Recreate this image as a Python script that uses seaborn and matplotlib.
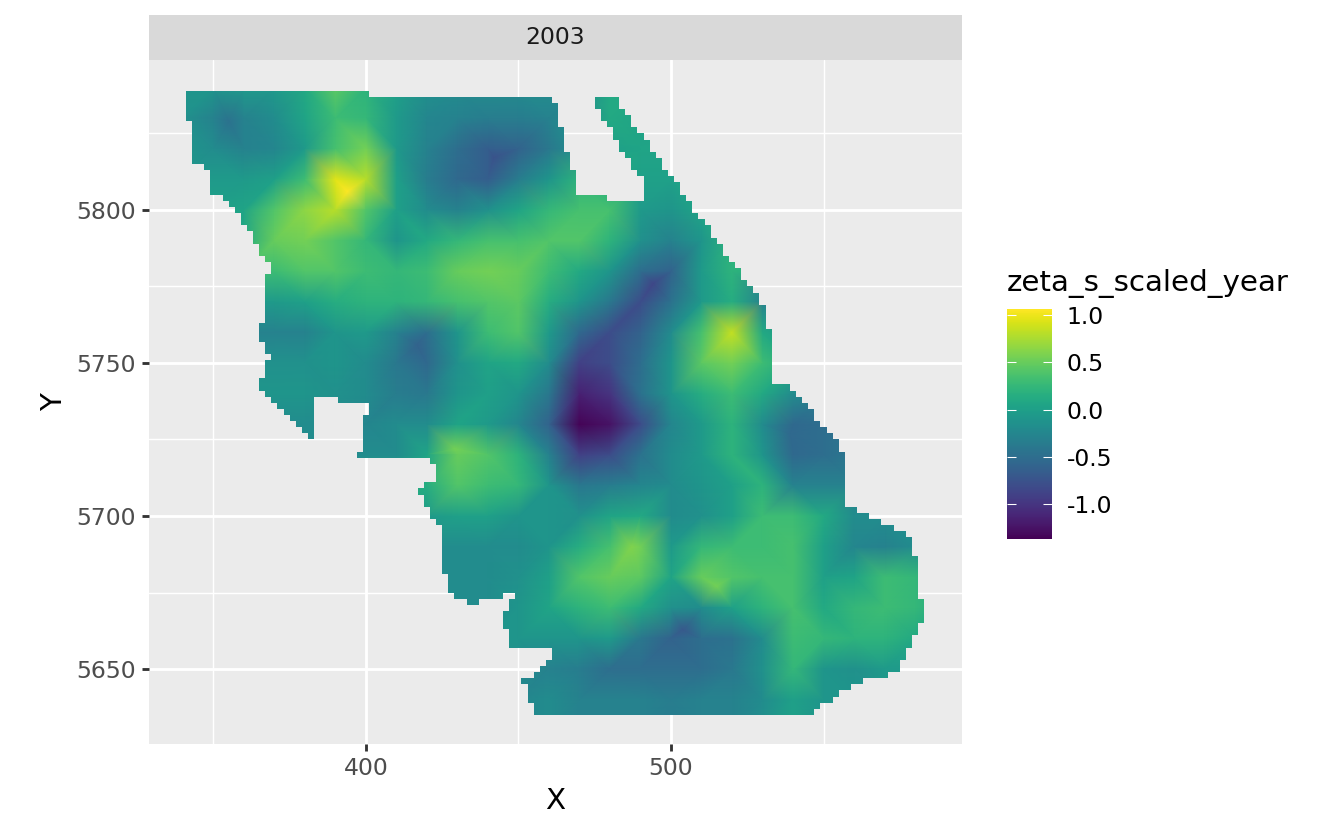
import numpy as np
import pandas as pd
import seaborn as sns
import matplotlib
matplotlib.use("Agg")
import matplotlib.pyplot as plt
from matplotlib.path import Path

YEAR = 2003
TITLE = "zeta_s_scaled_year"
X_NODES = [340, 350, 360, 370, 380, 390, 400, 410, 420, 430, 440, 450, 460,
           470, 480, 490, 500, 510, 520, 530, 540, 550, 560, 570, 580, 590]
Y_NODES = [5840, 5830, 5820, 5810, 5800, 5790, 5780, 5770, 5760, 5750, 5740,
           5730, 5720, 5710, 5700, 5690, 5680, 5670, 5660, 5650, 5640, 5630]

Z_5840 = [-.1, -.1, -.05, -.05, .1, .45, .2, 0, -.15, -.2, -.2, -.2, -.2, -.2, .1, .1, .05, 0, 0, 0, 0, 0, 0, 0, 0, 0]
Z_5830 = [-.15, -.3, -.3, -.2, .05, .3, .25, -.05, -.25, -.3, -.35, -.35, -.3, -.2, .1, .05, 0, 0, 0, 0, 0, 0, 0, 0, 0, 0]
Z_5820 = [-.1, -.2, -.3, -.25, -.05, .35, .55, -.05, -.3, -.5, -.65, -.6, -.4, -.15, 0, .05, .05, .05, 0, 0, 0, 0, 0, 0, 0, 0]
Z_5810 = [-.05, -.05, -.05, 0, .3, .95, .8, 0, -.35, -.55, -.65, -.35, -.1, .2, .1, 0, 0, .1, .1, 0, 0, 0, 0, 0, 0, 0]
Z_5800 = [0, 0, .05, .4, .65, .8, .4, 0, -.2, -.3, -.15, .05, .25, .35, .35, -.05, -.1, .05, .2, .1, 0, 0, 0, 0, 0, 0]
Z_5790 = [.1, .1, .1, .5, .55, .4, .25, -.1, .1, .25, .35, .35, .4, .4, .2, -.15, -.3, -.1, .2, .15, 0, 0, 0, 0, 0, 0]
Z_5780 = [.3, .3, .3, .3, .4, .4, .3, .25, .3, .5, .55, .5, .3, .1, -.1, -.5, -.6, -.05, .2, .15, 0, 0, 0, 0, 0, 0]
Z_5770 = [-.05, -.05, -.05, -.05, 0, .15, .2, .2, .25, .35, .4, .45, .15, -.1, -.4, -.8, -.45, -.05, .15, -.3, -.3, 0, 0, 0, 0, 0]
Z_5760 = [-.3, -.3, -.3, -.3, -.3, -.1, -.05, -.3, -.5, -.1, .3, .4, -.05, -.55, -.8, -.6, -.2, .35, .85, .1, -.1, 0, 0, 0, 0, 0]
Z_5750 = [-.15, -.15, -.15, -.15, -.15, -.1, -.2, -.4, -.55, -.15, .05, .1, -.2, -.9, -.8, -.5, -.1, .45, .55, .3, .1, 0, 0, 0, 0, 0]
Z_5740 = [-.1, -.1, -.1, -.1, -.1, -.15, -.2, -.35, -.4, -.1, 0, -.1, -.4, -1.15, -1.0, -.45, -.1, .15, .3, .1, -.2, -.3, -.3, 0, 0, 0]
Z_5730 = [-.2, -.2, -.2, -.2, -.2, -.2, -.25, -.2, -.2, .05, -.05, -.25, -.6, -1.35, -1.25, -.8, -.25, -.05, .2, -.2, -.55, -.5, -.45, -.4, 0, 0]
Z_5720 = [-.2, -.2, -.2, -.2, -.2, -.2, -.2, -.2, .05, .5, .4, .2, -.3, -.9, -.8, -.45, -.2, -.05, .2, -.1, -.55, -.5, -.4, -.4, 0, 0]
Z_5710 = [0, 0, 0, 0, 0, 0, 0, .1, .15, .4, .3, .25, -.1, -.4, -.35, -.25, -.2, -.1, 0, .2, -.3, -.3, -.3, -.3, 0, 0]
Z_5700 = [0, 0, 0, 0, 0, 0, 0, 0, -.05, 0, 0, -.1, -.1, -.15, .05, .1, -.2, -.15, 0, .3, .3, .1, -.2, -.2, -.25, 0]
Z_5690 = [0, 0, 0, 0, 0, 0, 0, 0, -.2, -.2, -.2, -.2, -.1, .15, .35, .55, -.05, .25, .3, .3, .35, 0, -.25, -.3, -.2, 0]
Z_5680 = [0, 0, 0, 0, 0, 0, 0, 0, -.2, -.2, -.2, -.15, 0, .4, .5, .45, .05, .5, .4, .35, .35, 0, .05, .3, .25, .1]
Z_5670 = [0, 0, 0, 0, 0, 0, 0, 0, -.2, -.2, -.2, -.1, .05, .2, .3, .1, -.15, -.2, 0, .2, .35, .1, .25, .3, .25, .1]
Z_5660 = [0, 0, 0, 0, 0, 0, 0, 0, 0, -.1, -.1, -.1, -.1, -.1, -.05, -.4, -.6, -.5, -.45, -.2, .3, .25, .2, .2, .1, 0]
Z_5650 = [0, 0, 0, 0, 0, 0, 0, 0, 0, -.2, -.2, -.2, -.3, -.35, -.5, -.5, -.5, -.5, -.4, -.15, .25, -.1, -.15, -.05, -.05, 0]
Z_5640 = [0, 0, 0, 0, 0, 0, 0, 0, 0, -.2, -.2, -.25, -.2, -.3, -.3, -.3, -.35, -.3, -.3, -.2, 0, -.1, -.1, -.1, 0, 0]
Z_5630 = [0, 0, 0, 0, 0, 0, 0, 0, 0, -.2, -.2, -.25, -.2, -.3, -.3, -.3, -.35, -.3, -.3, -.15, 0, -.1, -.1, -.1, 0, 0]
Z_ROWS = [Z_5840, Z_5830, Z_5820, Z_5810, Z_5800, Z_5790, Z_5780, Z_5770, Z_5760, Z_5750, Z_5740,
          Z_5730, Z_5720, Z_5710, Z_5700, Z_5690, Z_5680, Z_5670, Z_5660, Z_5650, Z_5640, Z_5630]

PEAK_X = [394, 355, 442, 417, 429, 487, 504, 515, 539, 494]
PEAK_Y = [5806, 5829, 5817, 5756, 5722, 5690, 5663, 5677, 5727, 5776]
PEAK_Z = [1.06, -.45, -.75, -.6, .55, .6, -.7, .55, -.55, -.85]

# Footprint of the raster: staircase outline of the 2-unit cells
FOOTPRINT = [
    (341, 5839), (401, 5839), (401, 5837), (461, 5837), (461, 5835), (463, 5835), (463, 5827), (465, 5827),
    (465, 5819), (467, 5819), (467, 5813), (469, 5813), (469, 5805), (479, 5805), (479, 5803), (491, 5803),
    (491, 5811), (489, 5811), (489, 5813), (487, 5813), (487, 5817), (485, 5817), (485, 5819), (483, 5819),
    (483, 5823), (481, 5823), (481, 5827), (479, 5827), (479, 5829), (477, 5829), (477, 5833), (475, 5833),
    (475, 5837), (483, 5837), (483, 5833), (485, 5833), (485, 5831), (487, 5831), (487, 5827), (489, 5827),
    (489, 5825), (491, 5825), (491, 5823), (493, 5823), (493, 5819), (495, 5819), (495, 5817), (497, 5817),
    (497, 5813), (499, 5813), (499, 5811), (501, 5811), (501, 5809), (503, 5809), (503, 5805), (505, 5805),
    (505, 5803), (507, 5803), (507, 5799), (509, 5799), (509, 5797), (511, 5797), (511, 5795), (513, 5795),
    (513, 5791), (515, 5791), (515, 5789), (517, 5789), (517, 5785), (519, 5785), (519, 5783), (521, 5783),
    (521, 5781), (523, 5781), (523, 5777), (525, 5777), (525, 5775), (527, 5775), (527, 5773), (529, 5773),
    (529, 5769), (531, 5769), (531, 5761), (533, 5761), (533, 5743), (539, 5743), (539, 5741), (541, 5741),
    (541, 5739), (543, 5739), (543, 5737), (545, 5737), (545, 5735), (547, 5735), (547, 5731), (549, 5731),
    (549, 5729), (551, 5729), (551, 5727), (553, 5727), (553, 5725), (555, 5725), (555, 5721), (557, 5721),
    (557, 5703), (561, 5703), (561, 5701), (565, 5701), (565, 5699), (569, 5699), (569, 5697), (573, 5697),
    (573, 5695), (577, 5695), (577, 5693), (579, 5693), (579, 5687), (581, 5687), (581, 5673), (583, 5673),
    (583, 5665), (581, 5665), (581, 5661), (579, 5661), (579, 5657), (577, 5657), (577, 5653), (575, 5653),
    (575, 5649), (571, 5649), (571, 5647), (563, 5647), (563, 5645), (559, 5645), (559, 5643), (555, 5643),
    (555, 5641), (553, 5641), (553, 5639), (549, 5639), (549, 5637), (547, 5637), (547, 5635), (455, 5635),
    (455, 5639), (453, 5639), (453, 5645), (451, 5645), (451, 5647), (455, 5647), (455, 5649), (457, 5649),
    (457, 5651), (459, 5651), (459, 5653), (461, 5653), (461, 5657), (447, 5657), (447, 5663), (445, 5663),
    (445, 5669), (447, 5669), (447, 5673), (449, 5673), (449, 5675), (445, 5675), (445, 5673), (437, 5673),
    (437, 5671), (433, 5671), (433, 5673), (429, 5673), (429, 5675), (427, 5675), (427, 5681), (425, 5681),
    (425, 5697), (423, 5697), (423, 5699), (421, 5699), (421, 5703), (419, 5703), (419, 5707), (417, 5707),
    (417, 5709), (419, 5709), (419, 5711), (423, 5711), (423, 5717), (421, 5717), (421, 5719), (397, 5719),
    (397, 5721), (399, 5721), (399, 5733), (401, 5733), (401, 5737), (391, 5737), (391, 5739), (383, 5739),
    (383, 5725), (381, 5725), (381, 5727), (379, 5727), (379, 5729), (377, 5729), (377, 5731), (375, 5731),
    (375, 5733), (373, 5733), (373, 5735), (371, 5735), (371, 5737), (369, 5737), (369, 5739), (367, 5739),
    (367, 5741), (365, 5741), (365, 5745), (367, 5745), (367, 5751), (369, 5751), (369, 5753), (367, 5753),
    (367, 5757), (365, 5757), (365, 5763), (367, 5763), (367, 5779), (369, 5779), (369, 5783), (367, 5783),
    (367, 5785), (365, 5785), (365, 5789), (363, 5789), (363, 5793), (361, 5793), (361, 5795), (359, 5795),
    (359, 5799), (357, 5799), (357, 5801), (355, 5801), (355, 5803), (353, 5803), (353, 5805), (349, 5805),
    (349, 5813), (347, 5813), (347, 5815), (343, 5815), (343, 5829), (341, 5829), (341, 5839),
]

W, H, DPI = 1344, 830, 192
VMIN, VMAX = -1.37, 1.064

sns.set_theme(style="darkgrid", rc={"axes.facecolor": "#EBEBEB", "font.family": "DejaVu Sans"})

records = [(x, y, z, YEAR) for y, row in zip(Y_NODES, Z_ROWS) for x, z in zip(X_NODES, row)]
records += [(x, y, z, YEAR) for x, y, z in zip(PEAK_X, PEAK_Y, PEAK_Z)]
df = pd.DataFrame(records, columns=["X", "Y", "zeta", "year"])

holder = {}


def draw(data, **kw):
    ax = plt.gca()
    mesh = ax.tripcolor(data["X"].values.astype(float), data["Y"].values.astype(float),
                        data["zeta"].values, shading="gouraud", cmap="viridis",
                        vmin=VMIN, vmax=VMAX, zorder=3)
    mesh.set_clip_path(Path(FOOTPRINT), ax.transData)
    holder["mesh"] = mesh


g = sns.FacetGrid(df, col="year", height=H / DPI, aspect=W / H, despine=False)
g.map_dataframe(draw)
fig = g.figure
fig.set_size_inches(W / DPI, H / DPI)
fig.set_dpi(DPI)
fig.patch.set_facecolor("white")


def box(x0, y0, x1, y1):
    return [x0 / W, 1 - y1 / H, (x1 - x0) / W, (y1 - y0) / H]


ax = g.ax
ax.set_position(box(149, 60, 962, 744))
ax.set_title("")
ax.set_xlim(328.9, 595.4)
ax.set_ylim(5625.5, 5849.0)
for s in ax.spines.values():
    s.set_visible(False)
ax.set_axisbelow(True)
ax.set_xticks([400, 500])
ax.set_yticks([5650, 5700, 5750, 5800])
ax.set_xticks([350, 450, 550], minor=True)
ax.set_yticks([5675, 5725, 5775, 5825], minor=True)
ax.grid(True, which="major", color="white", lw=1.07)
ax.grid(True, which="minor", color="white", lw=0.53)
ax.tick_params(which="major", length=2.75, width=1.07, color="#333333", labelcolor="#4D4D4D",
               labelsize=8.8, bottom=True, left=True, pad=2.2)
ax.tick_params(which="minor", length=0, bottom=False, left=False)
ax.set_xlabel("X", fontsize=11, color="black", labelpad=2.5)
ax.set_ylabel("Y", fontsize=11, color="black", labelpad=3)

strip = fig.add_axes(box(149, 15, 962, 60))
strip.set_facecolor("#D9D9D9")
strip.set_xticks([])
strip.set_yticks([])
strip.grid(False)
for s in strip.spines.values():
    s.set_visible(False)
strip.text(0.5, 0.5, str(YEAR), transform=strip.transAxes, ha="center", va="center",
           fontsize=8.8, color="#1A1A1A")

cax = fig.add_axes(box(1007, 309, 1052, 539))
cb = fig.colorbar(holder["mesh"], cax=cax, ticks=[-1.0, -0.5, 0.0, 0.5, 1.0])
cb.outline.set_visible(False)
cb.ax.set_yticklabels(["-1.0", "-0.5", "0.0", "0.5", "1.0"])
cb.ax.grid(False)
cb.ax.set_axisbelow(False)
cb.ax.tick_params(direction="in", length=3.4, width=0.4, color="white", left=True, right=True,
                  labelleft=False, labelright=True, labelsize=8.8, labelcolor="black", pad=5.5)
fig.text(1007 / W, 1 - 291 / H, TITLE, fontsize=11, color="black", ha="left", va="baseline")

fig.savefig("out.png", dpi=DPI, facecolor="white")
